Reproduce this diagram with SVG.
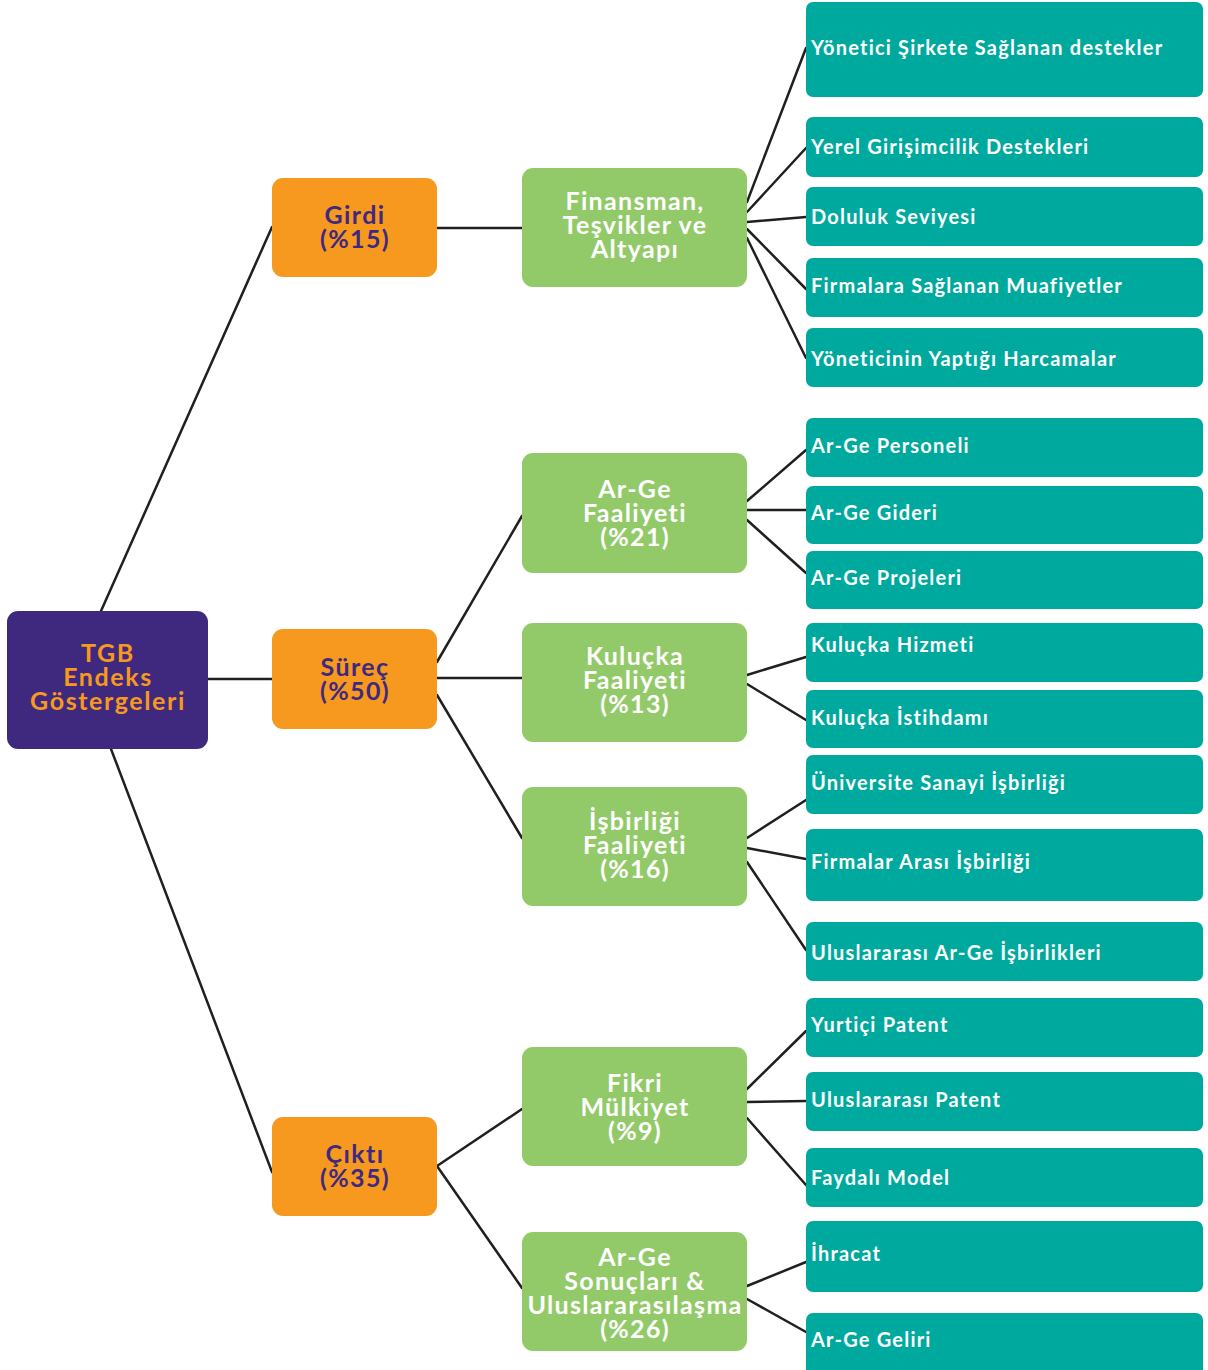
<svg xmlns="http://www.w3.org/2000/svg" width="1208" height="1370" viewBox="0 0 1208 1370">
<style>
.root{fill:#3f297f}
.cat{fill:#f7981f}
.sub{fill:#93ca69}
.leaf{fill:#00a99d}
.conn line{stroke:#231f20;stroke-width:2.5;stroke-linecap:round}
text{font-family:Lato,"Noto Sans",sans-serif;font-weight:700}
.tr{fill:#f7981f;font-size:25px;text-anchor:middle;letter-spacing:1.6px}
.tc{fill:#3f297f;font-size:25px;text-anchor:middle;letter-spacing:1.4px}
.ts{fill:#ffffff;font-size:25px;text-anchor:middle;letter-spacing:1.3px}
.tl{fill:#ffffff;font-size:20px;letter-spacing:1.2px}
</style>
<rect width="1208" height="1370" fill="#ffffff"/>
<g class="conn" id="connectors">
<line x1="101" y1="611" x2="272" y2="227"/>
<line x1="208" y1="679" x2="272" y2="679"/>
<line x1="111" y1="749" x2="272" y2="1172"/>
<line x1="437" y1="228" x2="522" y2="228"/>
<line x1="437" y1="662" x2="522" y2="516"/>
<line x1="437" y1="678" x2="522" y2="678"/>
<line x1="437" y1="695" x2="522" y2="838"/>
<line x1="437" y1="1166" x2="522" y2="1109"/>
<line x1="437" y1="1166" x2="522" y2="1288"/>
<line x1="747" y1="202" x2="806" y2="48"/>
<line x1="747" y1="212" x2="806" y2="148"/>
<line x1="747" y1="222" x2="806" y2="217"/>
<line x1="747" y1="229" x2="806" y2="289"/>
<line x1="747" y1="238" x2="806" y2="358"/>
<line x1="747" y1="501" x2="806" y2="450"/>
<line x1="747" y1="510" x2="806" y2="510"/>
<line x1="747" y1="520" x2="806" y2="573"/>
<line x1="747" y1="675" x2="806" y2="657"/>
<line x1="747" y1="684" x2="806" y2="720"/>
<line x1="747" y1="838" x2="806" y2="800"/>
<line x1="747" y1="848" x2="806" y2="859"/>
<line x1="747" y1="862" x2="806" y2="950"/>
<line x1="747" y1="1089" x2="806" y2="1031"/>
<line x1="747" y1="1102" x2="806" y2="1101"/>
<line x1="747" y1="1118" x2="806" y2="1185"/>
<line x1="747" y1="1286" x2="806" y2="1262"/>
<line x1="747" y1="1299" x2="806" y2="1332"/>
</g>
<g id="n-root"><rect class="root" x="7" y="611" width="201" height="138" rx="11"/>
<text class="tr" x="108" y="662">TGB</text><text class="tr" x="108" y="686">Endeks</text><text class="tr" x="108" y="710">Göstergeleri</text></g>
<g id="n-girdi"><rect class="cat" x="272" y="178" width="165" height="99" rx="11"/>
<text class="tc" x="355" y="224">Girdi</text><text class="tc" x="355" y="248">(%15)</text></g>
<g id="n-surec"><rect class="cat" x="272" y="629" width="165" height="100" rx="11"/>
<text class="tc" x="355" y="676">Süreç</text><text class="tc" x="355" y="700">(%50)</text></g>
<g id="n-cikti"><rect class="cat" x="272" y="1117" width="165" height="99" rx="11"/>
<text class="tc" x="355" y="1163">Çıktı</text><text class="tc" x="355" y="1187">(%35)</text></g>
<g id="n-finansman"><rect class="sub" x="522" y="168" width="225" height="119" rx="11"/>
<text class="ts" x="635" y="210">Finansman,</text><text class="ts" x="635" y="234">Teşvikler ve</text><text class="ts" x="635" y="258">Altyapı</text></g>
<g id="n-arge"><rect class="sub" x="522" y="453" width="225" height="120" rx="11"/>
<text class="ts" x="635" y="498">Ar-Ge</text><text class="ts" x="635" y="522">Faaliyeti</text><text class="ts" x="635" y="546">(%21)</text></g>
<g id="n-kulucka"><rect class="sub" x="522" y="623" width="225" height="119" rx="11"/>
<text class="ts" x="635" y="665">Kuluçka</text><text class="ts" x="635" y="689">Faaliyeti</text><text class="ts" x="635" y="713">(%13)</text></g>
<g id="n-isbirligi"><rect class="sub" x="522" y="787" width="225" height="119" rx="11"/>
<text class="ts" x="635" y="830">İşbirliği</text><text class="ts" x="635" y="854">Faaliyeti</text><text class="ts" x="635" y="878">(%16)</text></g>
<g id="n-fikri"><rect class="sub" x="522" y="1047" width="225" height="119" rx="11"/>
<text class="ts" x="635" y="1092">Fikri</text><text class="ts" x="635" y="1116">Mülkiyet</text><text class="ts" x="635" y="1140">(%9)</text></g>
<g id="n-sonuclar"><rect class="sub" x="522" y="1232" width="225" height="119" rx="11"/>
<text class="ts" x="635" y="1266">Ar-Ge</text><text class="ts" x="635" y="1290">Sonuçları &amp;</text><text class="ts" x="635" y="1314">Uluslararasılaşma</text><text class="ts" x="635" y="1338">(%26)</text></g>
<g id="l1"><rect class="leaf" x="806" y="2" width="397" height="95" rx="7"/><text class="tl" x="811" y="55">Yönetici Şirkete Sağlanan destekler</text></g>
<g id="l2"><rect class="leaf" x="806" y="117" width="397" height="60" rx="7"/><text class="tl" x="811" y="154">Yerel Girişimcilik Destekleri</text></g>
<g id="l3"><rect class="leaf" x="806" y="187" width="397" height="59" rx="7"/><text class="tl" x="811" y="224">Doluluk Seviyesi</text></g>
<g id="l4"><rect class="leaf" x="806" y="258" width="397" height="59" rx="7"/><text class="tl" x="811" y="293">Firmalara Sağlanan Muafiyetler</text></g>
<g id="l5"><rect class="leaf" x="806" y="328" width="397" height="59" rx="7"/><text class="tl" x="811" y="366">Yöneticinin Yaptığı Harcamalar</text></g>
<g id="l6"><rect class="leaf" x="806" y="418" width="397" height="59" rx="7"/><text class="tl" x="811" y="453">Ar-Ge Personeli</text></g>
<g id="l7"><rect class="leaf" x="806" y="486" width="397" height="58" rx="7"/><text class="tl" x="811" y="520">Ar-Ge Gideri</text></g>
<g id="l8"><rect class="leaf" x="806" y="551" width="397" height="58" rx="7"/><text class="tl" x="811" y="585">Ar-Ge Projeleri</text></g>
<g id="l9"><rect class="leaf" x="806" y="623" width="397" height="59" rx="7"/><text class="tl" x="811" y="652">Kuluçka Hizmeti</text></g>
<g id="l10"><rect class="leaf" x="806" y="690" width="397" height="58" rx="7"/><text class="tl" x="811" y="725">Kuluçka İstihdamı</text></g>
<g id="l11"><rect class="leaf" x="806" y="755" width="397" height="59" rx="7"/><text class="tl" x="811" y="790">Üniversite Sanayi İşbirliği</text></g>
<g id="l12"><rect class="leaf" x="806" y="829" width="397" height="72" rx="7"/><text class="tl" x="811" y="869">Firmalar Arası İşbirliği</text></g>
<g id="l13"><rect class="leaf" x="806" y="922" width="397" height="59" rx="7"/><text class="tl" x="811" y="960">Uluslararası Ar-Ge İşbirlikleri</text></g>
<g id="l14"><rect class="leaf" x="806" y="998" width="397" height="59" rx="7"/><text class="tl" x="811" y="1032">Yurtiçi Patent</text></g>
<g id="l15"><rect class="leaf" x="806" y="1072" width="397" height="59" rx="7"/><text class="tl" x="811" y="1107">Uluslararası Patent</text></g>
<g id="l16"><rect class="leaf" x="806" y="1148" width="397" height="59" rx="7"/><text class="tl" x="811" y="1185">Faydalı Model</text></g>
<g id="l17"><rect class="leaf" x="806" y="1221" width="397" height="71" rx="7"/><text class="tl" x="811" y="1261">İhracat</text></g>
<g id="l18"><rect class="leaf" x="806" y="1313" width="397" height="66" rx="7"/><text class="tl" x="811" y="1347">Ar-Ge Geliri</text></g>
</svg>
